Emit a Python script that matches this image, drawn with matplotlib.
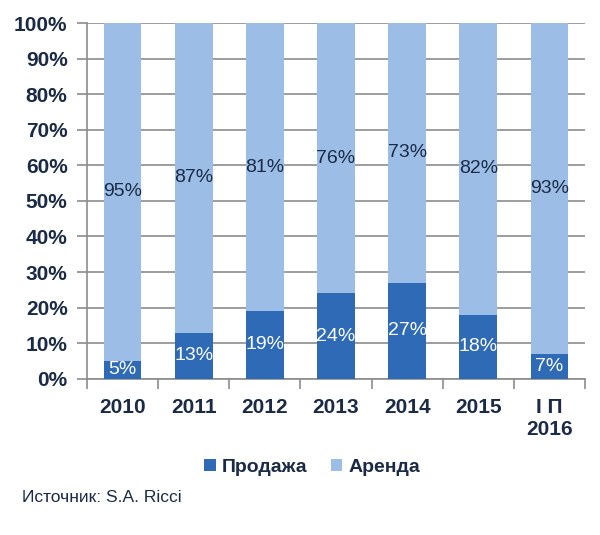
import matplotlib.pyplot as plt
import numpy as np
from matplotlib.ticker import FixedLocator, PercentFormatter

# Data
years = ['2010', '2011', '2012', '2013', '2014', '2015', 'I П\n2016']
sale = [5, 13, 19, 24, 27, 18, 7]
rent = [95, 87, 81, 76, 73, 82, 93]

dark = '#2e6ab5'
light = '#9bbde6'
text_col = '#1b2b45'
grid_col = '#8c8c8c'

plt.rcParams['font.family'] = ['Liberation Sans', 'DejaVu Sans']

fig = plt.figure(figsize=(6, 5.35), dpi=100)
ax = fig.add_axes([0.145, 0.292, 0.83, 0.665])
ax.set_axisbelow(True)

x = np.arange(len(years))
ax.bar(x, sale, width=0.53, color=dark, label='Продажа', zorder=3)
ax.bar(x, rent, width=0.53, bottom=sale, color=light, label='Аренда', zorder=3)

# value labels in the middle of each segment
for xi, s, r in zip(x, sale, rent):
    ax.text(xi, s / 2, f'{s}%', ha='center', va='center', color='white',
            fontsize=14, zorder=4)
    ax.text(xi, s + r / 2, f'{r}%', ha='center', va='center', color=text_col,
            fontsize=14, zorder=4)

ax.set_xlim(-0.5, len(years) - 0.5)
ax.set_ylim(0, 100)
ax.yaxis.set_major_locator(FixedLocator(range(0, 101, 10)))
ax.yaxis.set_major_formatter(PercentFormatter(decimals=0))
ax.grid(axis='y', color=grid_col, linewidth=1.2)

ax.set_xticks(x)
ax.set_xticklabels(years)
ax.set_xticks(np.arange(-0.5, len(years), 1), minor=True)
ax.tick_params(axis='x', which='major', length=0, pad=14)
ax.tick_params(axis='x', which='minor', length=7, color=grid_col, width=1.2)
ax.tick_params(axis='y', length=7, color=grid_col, width=1.2, pad=7)

for lab in ax.get_xticklabels() + ax.get_yticklabels():
    lab.set_color(text_col)
    lab.set_fontsize(15)
    lab.set_fontweight('bold')

for side in ['top', 'right']:
    ax.spines[side].set_visible(False)
for side in ['left', 'bottom']:
    ax.spines[side].set_color(grid_col)
    ax.spines[side].set_linewidth(1.2)

leg = fig.legend(loc='center', bbox_to_anchor=(0.52, 0.127), ncol=2, frameon=False,
                 handlelength=0.6, handleheight=0.6, handletextpad=0.3,
                 columnspacing=1.2, prop={'size': 14, 'weight': 'bold'})
for t in leg.get_texts():
    t.set_color(text_col)

fig.text(0.037, 0.07, 'Источник: S.A. Ricci', fontsize=12.5, color=text_col,
         va='center')

fig.savefig('out.png', dpi=100)
